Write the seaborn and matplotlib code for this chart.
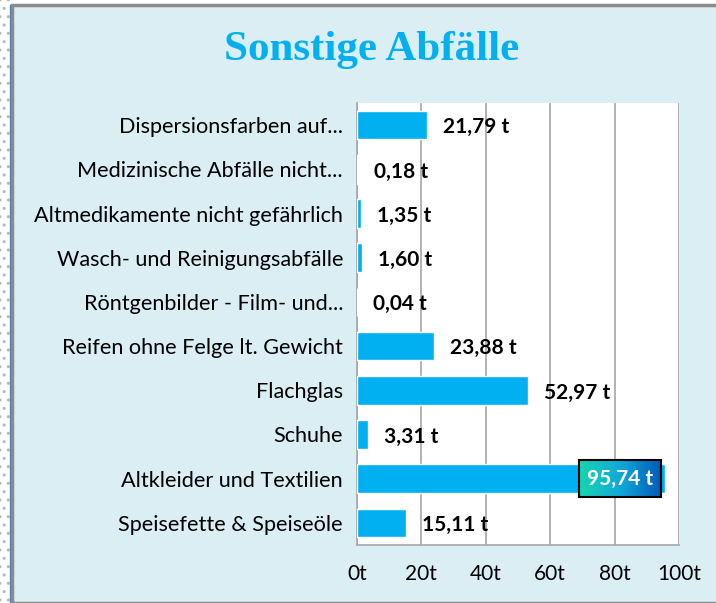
"""Sonstige Abfälle - horizontal bar chart"""
import numpy as np
import pandas as pd
import matplotlib
matplotlib.use('Agg')
import matplotlib.pyplot as plt
from matplotlib.patches import Rectangle
from matplotlib.ticker import FixedLocator, FuncFormatter
import seaborn as sns

#Data
categories = ['Dispersionsfarben auf...',
              'Medizinische Abfälle nicht...',
              'Altmedikamente nicht gefährlich',
              'Wasch- und Reinigungsabfälle',
              'Röntgenbilder - Film- und...',
              'Reifen ohne Felge lt. Gewicht',
              'Flachglas',
              'Schuhe',
              'Altkleider und Textilien',
              'Speisefette & Speiseöle']
tonnes = [21.79, 0.18, 1.35, 1.60, 0.04, 23.88, 52.97, 3.31, 95.74, 15.11]
x_ticks = [0, 20, 40, 60, 80, 100]
highlight = 'Altkleider und Textilien'

df = pd.DataFrame({'kategorie': categories, 'menge': tonnes})

bar_blue = '#00B0F0'
bg_blue = '#DAEEF3'

sns.set_style('white')
plt.rcParams['font.family'] = ['Lato', 'DejaVu Sans']

fig = plt.figure(figsize=(7.16, 6.03), dpi=100, facecolor='white')

#Dotted strip on the left and the light blue chart area
fig.patches.append(Rectangle((0, 0), 12 / 716, 1, transform=fig.transFigure,
                             facecolor='white', edgecolor='#B8B8B8',
                             hatch='..', linewidth=0, zorder=-2))
fig.patches.append(Rectangle((12 / 716, 0), 1, 1 - 5 / 603,
                             transform=fig.transFigure, facecolor=bg_blue,
                             edgecolor='#8C8C8C', linewidth=2.5, zorder=-2))
fig.add_artist(plt.Line2D([10 / 716, 10 / 716], [0, 1 - 5 / 603],
                          transform=fig.transFigure, color='#4F81BD',
                          linewidth=1, zorder=-1))

ax = fig.add_axes([357 / 716, 1 - 545 / 603, 322 / 716, 442 / 603])
ax.set_facecolor('white')

sns.barplot(data=df, x='menge', y='kategorie', orient='h', color=bar_blue,
            width=0.65, saturation=1, ax=ax, zorder=3)

ax.set_xlim(0, 100)
ax.set_ylim(len(categories) - 0.5, -0.5)
ax.xaxis.set_major_locator(FixedLocator(x_ticks))
ax.xaxis.set_major_formatter(FuncFormatter(lambda v, p: f'{v:.0f}t'))
ax.grid(axis='x', color='#A6A6A6', linewidth=1.2, zorder=0)
ax.set_axisbelow(True)
ax.set_xlabel('')
ax.set_ylabel('')

for side in ['top', 'right']:
    ax.spines[side].set_visible(False)
for side in ['left', 'bottom']:
    ax.spines[side].set_color('#A6A6A6')
    ax.spines[side].set_linewidth(1.2)

ax.tick_params(axis='x', length=7, width=1.2, color='#A6A6A6',
               labelsize=15, labelcolor='black', pad=7)
ax.tick_params(axis='y', which='major', length=0, labelsize=15.6,
               labelcolor='black', pad=10)
ax.yaxis.set_minor_locator(FixedLocator(np.arange(-0.5, len(categories), 1)))
ax.tick_params(axis='y', which='minor', length=6, width=1.2, color='#A6A6A6')

#Value labels
fig.canvas.draw()
for i, (cat, val) in enumerate(zip(categories, tonnes)):
    label = f'{val:.2f}'.replace('.', ',') + ' t'
    if cat == highlight:
        t = ax.text(val - 3.8, i, label, ha='right', va='center',
                    fontsize=15, fontweight='bold', color='white', zorder=6,
                    bbox=dict(boxstyle='square,pad=0.4', facecolor='none',
                              edgecolor='black', linewidth=1.5))
        fig.canvas.draw()
        bb = t.get_bbox_patch().get_window_extent()
        inv = ax.transData.inverted()
        (x0, y0), (x1, y1) = inv.transform([[bb.x0, bb.y0], [bb.x1, bb.y1]])
        grad = np.linspace(0, 1, 256).reshape(1, -1)
        cmap = matplotlib.colors.LinearSegmentedColormap.from_list(
            'g', ['#18D6B0', '#10A8D8', '#0058B8'])
        ax.imshow(grad, cmap=cmap, extent=[x0, x1, y0, y1], aspect='auto',
                  zorder=5)
        ax.set_xlim(0, 100)
        ax.set_ylim(len(categories) - 0.5, -0.5)
    else:
        ax.text(val + 5, i + 0.05, label, ha='left', va='center', fontsize=15,
                fontweight='bold', color='black', zorder=6)

fig.text(372 / 716, 1 - 50 / 603, 'Sonstige Abfälle', ha='center',
         va='center', fontsize=31, fontweight='bold', color=bar_blue,
         family=['Liberation Serif', 'DejaVu Serif'])

plt.savefig('out.png', dpi=100, facecolor=fig.get_facecolor())
